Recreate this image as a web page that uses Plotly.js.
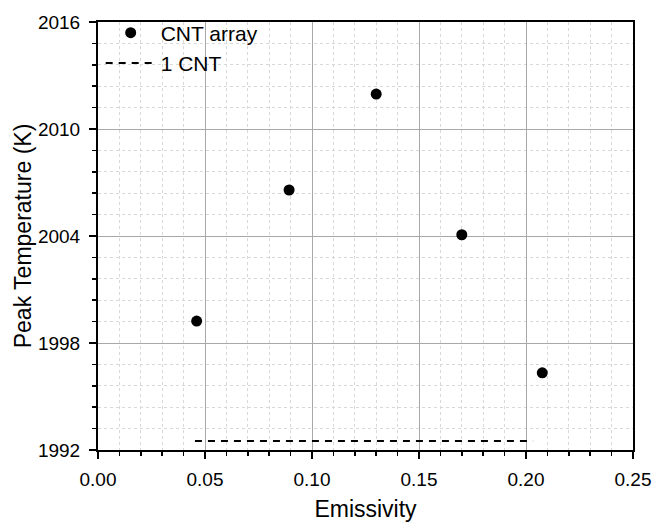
<!DOCTYPE html>
<html>
<head>
<meta charset="utf-8">
<script src="https://cdn.plot.ly/plotly-3.0.1.min.js"></script>
<style>html,body{margin:0;padding:0;background:#fff;}#chart{width:654px;height:522px;}</style>
</head>
<body>
<div id="chart"></div>
<script>
const emissivity = [0.0461, 0.0893, 0.130, 0.170, 0.2076];
const peakTemp = [1999.23, 2006.58, 2011.96, 2004.07, 1996.33];
const singleX = [0.0453, 0.2033];
const singleY = [1992.5, 1992.5];
const xTicks = [0, 0.05, 0.10, 0.15, 0.20, 0.25];
const xTickLabels = ['0.00', '0.05', '0.10', '0.15', '0.20', '0.25'];
const yTicks = [1992, 1998, 2004, 2010, 2016];

const font = 'Liberation Sans, Arial, sans-serif';
const traces = [
  {x: emissivity, y: peakTemp, type: 'scatter', mode: 'markers', name: 'CNT array',
   marker: {color: '#000', size: 11}},
  {x: singleX, y: singleY, type: 'scatter', mode: 'lines', name: '1 CNT',
   line: {color: '#000', width: 2, dash: '7px,6px'}}
];
const axisCommon = {
  showline: true, linecolor: '#000', linewidth: 2, mirror: true,
  ticks: 'outside', ticklen: 7, tickwidth: 1.5, tickcolor: '#000',
  showgrid: true, gridcolor: '#a8a8a8', gridwidth: 1, zeroline: false,
  tickfont: {family: font, size: 19, color: '#000'}
};
const layout = {
  width: 654, height: 522,
  margin: {l: 98, r: 21, t: 22, b: 72},
  paper_bgcolor: '#fff', plot_bgcolor: '#fff',
  showlegend: true,
  legend: {x: 0.005, y: 1.022, xanchor: 'left', yanchor: 'top', bgcolor: 'rgba(0,0,0,0)',
           font: {family: font, size: 21, color: '#000'}, tracegroupgap: 0, itemwidth: 50},
  xaxis: Object.assign({}, axisCommon, {
    range: [0, 0.25], tickvals: xTicks, ticktext: xTickLabels, ticklabelstandoff: 4,
    title: {text: 'Emissivity', font: {family: font, size: 23, color: '#000'}, standoff: 14},
    minor: {dtick: 0.01, ticks: 'outside', ticklen: 4, tickcolor: '#000', showgrid: true,
            gridcolor: '#d8d8d8', griddash: 'dot', gridwidth: 1}
  }),
  yaxis: Object.assign({}, axisCommon, {
    range: [1992, 2016], tickvals: yTicks, ticklabelstandoff: 5,
    title: {text: 'Peak Temperature (K)', font: {family: font, size: 23, color: '#000'}, standoff: 0},
    minor: {dtick: 1.2, tick0: 1992, ticks: 'outside', ticklen: 4, tickcolor: '#000', showgrid: true,
            gridcolor: '#d8d8d8', griddash: 'dot', gridwidth: 1}
  })
};
Plotly.newPlot('chart', traces, layout, {displayModeBar: false, staticPlot: true});
</script>
</body>
</html>
